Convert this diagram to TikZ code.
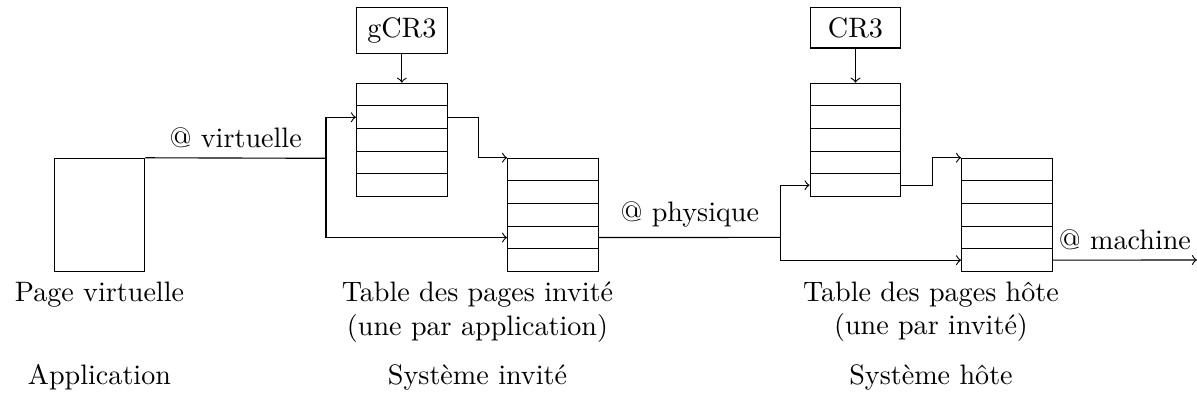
\documentclass[tikz,border=0pt]{standalone}
\usepackage{tikz}

\begin{document}
\begin{tikzpicture}[x=0.0125cm,y=-0.0125cm,
    row_node/.style={rectangle,draw,inner sep=0pt,minimum width=1.1325cm,minimum height=0.283cm},
    reg_node/.style={rectangle,draw,inner sep=3.5pt,minimum width=1.1325cm,anchor=north}]
    \useasboundingbox (0,0) rectangle (1197,399);

    % registres
    \node[reg_node] (gcr3) at (401.85,7.3) {gCR3};
    \node[reg_node] (cr3) at (855.5,7.3) {CR3};

    % tables des pages (5 entrees chacune)
    \foreach \t/\x/\y in {g1/401.85/94.6, g2/553/169.6, h1/855.5/94.6, h2/1007/169.6}
        \foreach \i in {1,...,5}
            \node[row_node] (\t_\i) at (\x,{\y+22.65*(\i-1)}) {};

    \node[rectangle,draw,minimum width=1.1325cm,minimum height=1.416cm] (page) at (99.5,215) {};

    \coordinate (v) at (326,158.3);
    \coordinate (p) at (780.7,237.4);
    \coordinate (m) at (1197,260);

    \draw (page.north east) -- node[above] {@ virtuelle} (v);
    \draw[->] (v) |- (g1_2);
    \draw[->] (v) |- (g2_4);
    \draw[->] (gcr3) -- (g1_1);
    \draw[->] (g1_2.east) -- ++(30.7,0) |- (g2_1.north west);

    \draw (g2_4) -- node[above] {@ physique} (p);
    \draw[->] (p) |- (h1_5);
    \draw[->] (p) |- (h2_5);
    \draw[->] (cr3) -- (h1_1);
    \draw[->] (h1_5.east) -- ++(30.7,0) |- (h2_1.north west);
    \draw[->] (h2_5) -- node[above] {@ machine} (m);

    \node[below] (pagelbl) at (page.south) {Page virtuelle};
    \node[below,align=center] (gtlbl) at (477.5,271.7) {Table des pages invité\\(une par application)};
    \node[below,align=center] (htlbl) at (931,271.7) {Table des pages hôte\\(une par invité)};
    \node[anchor=base] (app) at (99.5,384) {Application};
    \node[anchor=base] (ginv) at (477.5,384) {Système invité};
    \node[anchor=base] (ghote) at (931,384) {Système hôte};
\end{tikzpicture}
\end{document}
